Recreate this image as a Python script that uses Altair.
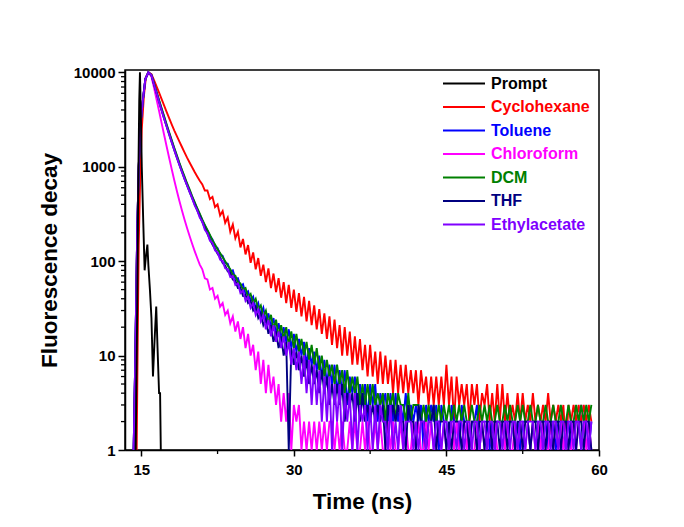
import altair as alt
import pandas as pd

# ---------------- data ----------------
SERIES = ["Prompt", "Cyclohexane", "Toluene", "Chloroform", "DCM", "THF", "Ethylacetate"]
COLORS = ["#000000", "#FF0000", "#0000FF", "#FF00FF", "#008000", "#000080", "#8000FF"]
DRAW_ORDER = ["Cyclohexane", "Toluene", "Chloroform", "DCM", "THF", "Ethylacetate", "Prompt"]

# instrument response (prompt)
PROMPT_T = [14.45, 14.6, 14.7, 14.8, 14.87, 14.95, 15.05, 15.2, 15.33, 15.45, 15.6, 15.7,
            15.85, 16.0, 16.15, 16.3, 16.47, 16.6, 16.75, 16.85, 16.92]
PROMPT_V = [1, 30, 600, 5000, 10000, 4000, 1000, 250, 80, 110, 150, 90,
            50, 25, 6, 14, 33, 12, 4, 4, 1]

# rising edges
RISE_T_CYCLO = [14.55, 14.65, 14.75, 14.9, 15.05, 15.25, 15.45, 15.7]
RISE_V_CYCLO = [1, 15, 150, 800, 2500, 5500, 8800, 10000]
RISE_T = [14.25, 14.4, 14.5, 14.6, 14.75, 14.95, 15.15, 15.4, 15.7]
RISE_V = [1, 8, 40, 200, 1000, 3000, 5000, 8500, 10000]

# decays: one value per 0.25 ns channel, starting at 16.0 ns
DECAY_T0 = 16.0
DECAY_STEP = 0.25

CYCLOHEXANE = [
    9600, 8300, 7100, 6100, 5200, 4450, 3800, 3250,
    2800, 2420, 2110, 1850, 1620, 1420, 1250, 1110,
    990, 880, 790, 710, 650, 560, 560, 455,
    480, 375, 400, 305, 340, 255, 290, 205,
    245, 175, 205, 140, 172, 118, 148, 96,
    124, 82, 108, 70, 92, 60, 84, 52,
    74, 47, 66, 41, 60, 36, 56, 32,
    50, 29, 46, 26, 42, 23, 38, 21,
    34, 19, 31, 17, 28, 15, 26, 13,
    24, 12, 21, 10, 20, 10, 18, 8,
    16, 8, 15, 7, 13, 6, 13, 6,
    11, 5, 11, 5, 10, 5, 9, 4,
    9, 4, 8, 4, 8, 4, 7, 4,
    7, 3, 7, 4, 6, 3, 6, 3,
    6, 3, 6, 3, 8, 3, 6, 2,
    6, 3, 5, 3, 5, 2, 5, 3,
    5, 2, 4, 3, 5, 2, 4, 2,
    5, 2, 5, 2, 4, 2, 3, 2,
    4, 2, 4, 2, 3, 2, 4, 2,
    3, 2, 3, 2, 4, 2, 3, 2,
    3, 2, 3, 1, 3, 2, 3, 2,
    3, 2, 3, 2, 3, 2,
]

TOLUENE = [
    9400, 7600, 6150, 5000, 4080, 3340, 2740, 2260,
    1870, 1550, 1290, 1080, 910, 770, 655, 560,
    480, 414, 358, 311, 272, 238, 212, 186,
    170, 145, 138, 118, 114, 96, 94, 78,
    80, 65, 66, 54, 57, 45, 48, 38,
    42, 31, 36, 27, 32, 23, 28, 20,
    25, 17, 22, 15, 20, 14, 19, 12,
    17, 11, 15, 10, 14, 8, 12, 8,
    11, 7, 10, 6, 9, 5, 8, 5,
    8, 4, 7, 4, 7, 3, 6, 4,
    6, 3, 5, 3, 5, 2, 5, 3,
    5, 2, 4, 3, 4, 2, 4, 2,
    4, 2, 3, 2, 4, 2, 3, 2,
    3, 2, 3, 1, 3, 2, 3, 2,
    3, 1, 3, 2, 2, 1, 3, 2,
    2, 1, 3, 2, 2, 1, 2, 2,
    3, 1, 2, 2, 2, 1, 2, 1,
    2, 2, 2, 1, 2, 2, 2, 1,
    2, 1, 2, 2, 2, 1, 2, 2,
    2, 1, 2, 2, 1, 2, 2, 1,
    2, 2, 1, 2, 2, 1, 2, 2,
    2, 1, 2, 2, 1, 2,
]

CHLOROFORM = [
    9000, 6900, 5200, 3900, 2900, 2170, 1630, 1230,
    935, 715, 555, 435, 345, 277, 225, 185,
    153, 128, 108, 92, 82, 66, 64, 50,
    52, 40, 43, 33, 36, 27, 30, 22,
    26, 18, 23, 15, 20, 12, 17, 10,
    13, 7, 11, 5, 9, 4, 8, 4,
    6, 3, 5, 2, 4, 2, 4, 1,
    3, 2, 3, 1, 2, 1, 2, 1,
    2, 1, 2, 1, 2, 1, 2, 2,
    1, 2, 1, 2, 1, 1, 2, 1,
    2, 1, 1, 2, 1, 2, 1, 1,
    2, 1, 2, 1, 1, 2, 1, 2,
    1, 1, 2, 1, 2, 1, 1, 2,
    1, 2, 1, 1, 2, 1, 2, 1,
    1, 2, 1, 2, 1, 1, 2, 1,
    2, 1, 1, 2, 1, 2, 1, 1,
    2, 1, 2, 1, 1, 2, 1, 2,
    1, 1, 2, 1, 2, 1, 1, 2,
    1, 2, 1, 1, 2, 1, 2, 1,
    2, 1, 2, 1, 1, 2, 1, 2,
    1, 2, 1, 2, 1, 1, 2, 1,
    2, 3, 2, 1, 2, 1,
]

DCM = [
    9400, 7650, 6250, 5100, 4170, 3420, 2800, 2310,
    1910, 1580, 1320, 1100, 930, 790, 670, 575,
    490, 422, 365, 318, 275, 242, 214, 190,
    166, 150, 134, 122, 110, 100, 90, 82,
    72, 70, 60, 58, 50, 52, 42, 45,
    36, 40, 31, 34, 26, 30, 22, 27,
    19, 24, 16, 21, 15, 20, 13, 18,
    12, 17, 11, 15, 10, 14, 9, 13,
    8, 12, 7, 10, 6, 9, 6, 8,
    5, 8, 5, 7, 4, 7, 4, 6,
    4, 6, 3, 5, 3, 5, 3, 5,
    3, 4, 3, 4, 2, 4, 3, 4,
    2, 4, 3, 3, 2, 4, 2, 3,
    3, 3, 2, 3, 2, 3, 2, 3,
    2, 3, 2, 3, 2, 3, 2, 3,
    2, 3, 2, 3, 2, 2, 3, 2,
    2, 3, 2, 3, 2, 3, 2, 2,
    3, 2, 2, 3, 2, 3, 2, 2,
    3, 2, 3, 2, 2, 3, 2, 2,
    3, 2, 2, 3, 2, 2, 3, 2,
    2, 3, 2, 2, 3, 2, 2, 3,
    2, 3, 2, 3, 2, 3,
]

THF = [
    9300, 7450, 6000, 4850, 3950, 3230, 2650, 2190,
    1810, 1500, 1250, 1045, 880, 745, 635, 542,
    465, 400, 346, 300, 260, 225, 196, 170,
    150, 135, 120, 110, 96, 90, 78, 75,
    64, 62, 52, 52, 43, 44, 36, 38,
    30, 33, 25, 28, 21, 24, 17, 21,
    14, 18, 12, 16, 10, 14, 1, 12,
    8, 11, 7, 10, 6, 9, 5, 8,
    5, 7, 4, 7, 4, 6, 3, 5,
    3, 5, 3, 5, 2, 4, 3, 4,
    2, 4, 2, 4, 2, 3, 2, 3,
    2, 3, 2, 3, 1, 3, 2, 3,
    2, 3, 2, 2, 1, 3, 2, 2,
    1, 3, 2, 2, 1, 2, 2, 3,
    1, 2, 2, 2, 1, 2, 1, 2,
    2, 2, 1, 2, 2, 1, 2, 2,
    1, 2, 2, 1, 2, 2, 1, 2,
    2, 1, 2, 2, 1, 2, 2, 1,
    2, 2, 1, 2, 2, 1, 2, 2,
    1, 2, 2, 1, 2, 2, 1, 2,
    2, 1, 2, 2, 1, 2, 2, 1,
    2, 2, 1, 2, 2, 1,
]

ETHYLACETATE = [
    9300, 7450, 6000, 4850, 3950, 3230, 2650, 2190,
    1810, 1500, 1250, 1045, 880, 745, 635, 542,
    465, 390, 345, 290, 262, 215, 198, 165,
    156, 130, 124, 104, 100, 84, 82, 68,
    70, 56, 58, 46, 49, 38, 42, 32,
    36, 27, 31, 23, 27, 19, 24, 16,
    21, 14, 18, 12, 16, 10, 14, 8,
    12, 7, 11, 5, 10, 4, 9, 3,
    8, 3, 7, 2, 6, 2, 6, 1,
    5, 2, 5, 1, 4, 2, 4, 1,
    4, 1, 3, 2, 3, 1, 3, 1,
    3, 1, 3, 2, 2, 1, 3, 1,
    2, 1, 3, 1, 2, 2, 2, 1,
    2, 1, 2, 2, 1, 2, 2, 1,
    2, 2, 1, 2, 2, 1, 2, 2,
    1, 2, 2, 1, 2, 2, 1, 2,
    2, 1, 2, 2, 1, 2, 2, 1,
    2, 2, 1, 2, 2, 1, 2, 2,
    1, 2, 2, 1, 2, 2, 2, 1,
    2, 2, 1, 2, 2, 1, 2, 2,
    1, 2, 2, 1, 2, 2, 1, 2,
    2, 1, 2, 2, 1, 2,
]

X_TICKS = [15, 30, 45, 60]
X_MINOR = [22.5, 37.5, 52.5]
Y_TICKS = [1, 10, 100, 1000, 10000]
Y_MINOR = [2, 3, 4, 5, 6, 7, 8, 9,
           20, 30, 40, 50, 60, 70, 80, 90,
           200, 300, 400, 500, 600, 700, 800, 900,
           2000, 3000, 4000, 5000, 6000, 7000, 8000, 9000]

# ---------------- build table ----------------
rows = []
for t, v in zip(PROMPT_T, PROMPT_V):
    rows.append(("Prompt", t, v))

def add(name, rt, rv, decay):
    for t, v in zip(rt, rv):
        rows.append((name, t, v))
    for i, v in enumerate(decay):
        rows.append((name, DECAY_T0 + DECAY_STEP * i, v))

add("Cyclohexane", RISE_T_CYCLO, RISE_V_CYCLO, CYCLOHEXANE)
add("Toluene", RISE_T, RISE_V, TOLUENE)
add("Chloroform", RISE_T, RISE_V, CHLOROFORM)
add("DCM", RISE_T, RISE_V, DCM)
add("THF", RISE_T, RISE_V, THF)
add("Ethylacetate", RISE_T, RISE_V, ETHYLACETATE)

df = pd.DataFrame(rows, columns=["series", "t", "v"])

FONT = "Liberation Sans"
x_scale = alt.Scale(domain=[13.4, 60], nice=False, zero=False)
y_scale = alt.Scale(type="log", domain=[1, 10600], nice=False)
color_scale = alt.Scale(domain=SERIES, range=COLORS)

def x_axis():
    return alt.Axis(values=X_TICKS, title="Time (ns)", tickSize=6, labelPadding=6,
                    titlePadding=13, labelFlush=False, grid=False)

def y_axis():
    return alt.Axis(values=Y_TICKS, format="d", title="Fluorescence decay", tickSize=7,
                    labelPadding=3, titlePadding=12, grid=False)

color_enc = alt.Color("series:N", scale=color_scale, legend=None)

layers = []
for name in DRAW_ORDER:
    layers.append(
        alt.Chart(df).transform_filter(alt.datum.series == name)
        .mark_line(strokeWidth=1.9, clip=True)
        .encode(
            x=alt.X("t:Q", scale=x_scale, axis=x_axis()),
            y=alt.Y("v:Q", scale=y_scale, axis=y_axis()),
            color=color_enc,
        )
    )

# minor ticks (through the same scales)
ymin_df = pd.DataFrame({"v": Y_MINOR})
xmin_df = pd.DataFrame({"t": X_MINOR})
layers.append(
    alt.Chart(ymin_df).mark_rule(color="black", strokeWidth=1.3).encode(
        y=alt.Y("v:Q", scale=y_scale, axis=y_axis()),
        x=alt.value(0), x2=alt.value(-4),
    )
)
layers.append(
    alt.Chart(xmin_df).mark_rule(color="black", strokeWidth=1.3).encode(
        x=alt.X("t:Q", scale=x_scale, axis=x_axis()),
        y=alt.value(380), y2=alt.value(384),
    )
)

# legend drawn as marks, rows placed in pixel space (scale=None)
leg_df = pd.DataFrame({"series": SERIES, "row": list(range(len(SERIES)))})
leg_lines = (
    alt.Chart(leg_df)
    .transform_calculate(py="13.5 + 23.5 * datum.row")
    .mark_rule(strokeWidth=1.8)
    .encode(y=alt.Y("py:Q", scale=None), x=alt.value(318), x2=alt.value(360), color=color_enc)
)
leg_text = (
    alt.Chart(leg_df)
    .transform_calculate(py="13.5 + 23.5 * datum.row")
    .mark_text(align="left", baseline="middle", font=FONT, fontSize=16, fontWeight="bold")
    .encode(y=alt.Y("py:Q", scale=None), x=alt.value(366), text="series:N", color=color_enc)
)
layers += [leg_lines, leg_text]

chart = (
    alt.layer(*layers)
    .properties(width=474, height=380, autosize="none",
                padding={"left": 125, "top": 70, "right": 85, "bottom": 77},
                background="white")
    .configure_view(stroke="black", strokeWidth=1.5)
    .configure_axis(
        grid=False, domainColor="black", domainWidth=1.5, tickColor="black", tickWidth=1.5,
        labelFont=FONT, labelFontSize=15, labelFontWeight="bold", labelColor="black",
        titleFont=FONT, titleFontSize=22.5, titleFontWeight="bold", titleColor="black",
    )
)

chart.save("out.html", embed_options={"renderer": "svg", "actions": False})
